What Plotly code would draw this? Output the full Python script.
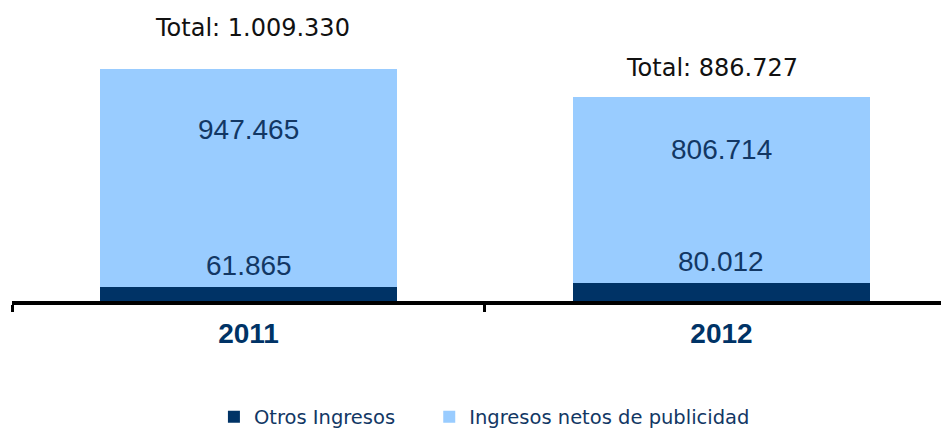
import plotly.graph_objects as go

years = ["2011", "2012"]
otros = [61865, 80012]
publicidad = [947465, 806714]
totals = [1009330, 886727]
otros_labels = ["61.865", "80.012"]
pub_labels = ["947.465", "806.714"]
total_labels = ["Total: 1.009.330", "Total: 886.727"]
series_names = ["Otros Ingresos", "Ingresos netos de publicidad"]

DARK = "#003366"
LIGHT = "#99CCFF"
TXT = "#123764"
NUM_FONT = "Liberation Sans, Arial, sans-serif"
TAH_FONT = "DejaVu Sans, Verdana, sans-serif"

fig = go.Figure()
fig.add_trace(go.Bar(x=years, y=otros, name=series_names[0], marker_color=DARK,
                     width=0.626, marker_line_width=0, legend="legend"))
fig.add_trace(go.Bar(x=years, y=publicidad, name=series_names[1], marker_color=LIGHT,
                     width=0.626, marker_line_width=0, legend="legend2"))

ann = []
total_shift_y = [41, 29]
total_shift_x = [4, -9]
for i, yr in enumerate(years):
    ann.append(dict(x=i, y=otros[i], text=otros_labels[i], showarrow=False,
                    yanchor="middle", yshift=21,
                    font=dict(family=NUM_FONT, size=28, color=TXT)))
    ann.append(dict(x=i, y=otros[i] + 0.72 * publicidad[i], text=pub_labels[i],
                    showarrow=False, yanchor="middle",
                    font=dict(family=NUM_FONT, size=28, color=TXT)))
    ann.append(dict(x=i, y=totals[i], text=total_labels[i], showarrow=False,
                    yanchor="middle", yshift=total_shift_y[i], xshift=total_shift_x[i],
                    font=dict(family=TAH_FONT, size=24, color="#111111")))

leg_common = dict(orientation="h", yanchor="middle", y=-0.413, xanchor="left",
                  font=dict(family=TAH_FONT, size=19.5, color=TXT),
                  bgcolor="rgba(0,0,0,0)")

fig.update_layout(
    barmode="stack",
    width=949, height=430,
    margin=dict(l=4, r=8, t=12, b=137, autoexpand=False),
    plot_bgcolor="white", paper_bgcolor="white",
    annotations=ann,
    showlegend=True,
    legend=dict(leg_common, x=0.2155),
    legend2=dict(leg_common, x=0.4453),
    xaxis=dict(type="category", range=[-0.5, 1.481], showline=True, linecolor="black",
               linewidth=3.5, ticks="outside", tickson="boundaries", ticklen=7,
               tickwidth=3, tickcolor="black", showgrid=False, ticklabelstandoff=5,
               tickfont=dict(family=NUM_FONT, size=28, color=DARK, weight="bold")),
    yaxis=dict(range=[0, 1.2112 * max(totals)], visible=False, showgrid=False),
)

fig.write_html("out.html")
